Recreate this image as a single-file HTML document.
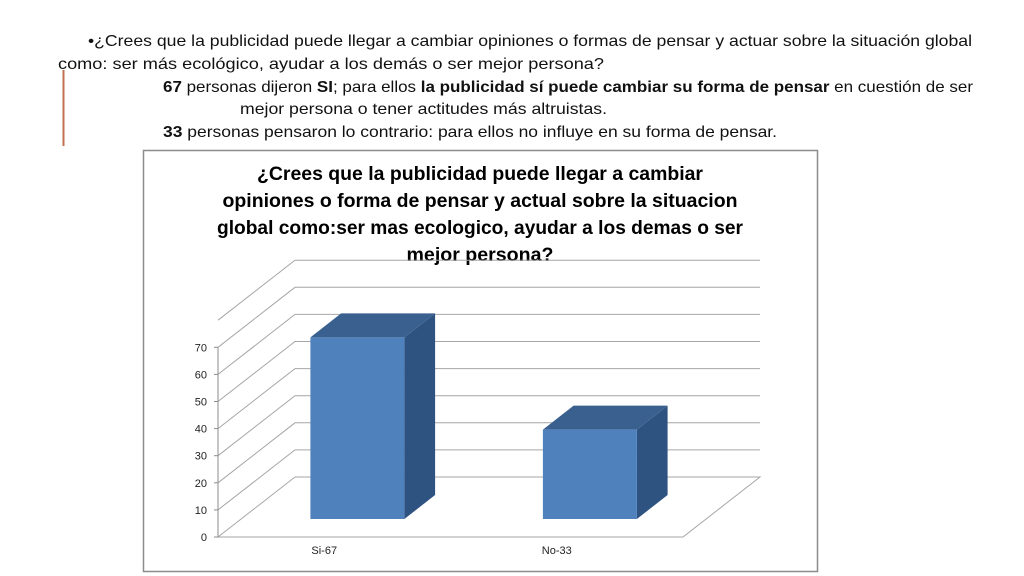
<!DOCTYPE html>
<html><head><meta charset="utf-8"><style>
html,body{margin:0;padding:0;background:#fff;}
svg{display:block;font-family:"Liberation Sans",sans-serif;}
</style></head><body>
<svg id="s" width="1024" height="576" viewBox="0 0 1024 576" xmlns="http://www.w3.org/2000/svg">
<line x1="63.5" y1="70" x2="63.5" y2="146" stroke="#c0704f" stroke-width="2"/>
<g font-size="16" fill="#111">
<text x="88" y="46" textLength="884" lengthAdjust="spacingAndGlyphs">•¿Crees que la publicidad puede llegar a cambiar opiniones o formas de pensar y actuar sobre la situación global</text>
<text x="58" y="69" textLength="546" lengthAdjust="spacingAndGlyphs">como: ser más ecológico, ayudar a los demás o ser mejor persona?</text>
<text x="163" y="92" textLength="810" lengthAdjust="spacingAndGlyphs"><tspan font-weight="bold">67</tspan> personas dijeron <tspan font-weight="bold">SI</tspan>; para ellos <tspan font-weight="bold">la publicidad sí puede cambiar su forma de pensar</tspan> en cuestión de ser</text>
<text x="240" y="114" textLength="367" lengthAdjust="spacingAndGlyphs">mejor persona o tener actitudes más altruistas.</text>
<text x="163" y="137" textLength="614" lengthAdjust="spacingAndGlyphs"><tspan font-weight="bold">33</tspan> personas pensaron lo contrario: para ellos no influye en su forma de pensar.</text>
</g>
<rect x="143.5" y="150.5" width="674" height="421" fill="#fff" stroke="#8c8c8c" stroke-width="1.5"/>
<g font-size="19" font-weight="bold" fill="#000" text-anchor="middle">
<text x="480" y="180" textLength="446" lengthAdjust="spacingAndGlyphs">¿Crees que la publicidad puede llegar a cambiar</text>
<text x="480" y="207" textLength="515" lengthAdjust="spacingAndGlyphs">opiniones o forma de pensar y actual sobre la situacion</text>
<text x="480" y="234" textLength="526" lengthAdjust="spacingAndGlyphs">global como:ser mas ecologico, ayudar a los demas o ser</text>
<text x="480" y="261" textLength="147" lengthAdjust="spacingAndGlyphs">mejor persona?</text>
</g>
<g id="plot"></g>
</svg>
<script>
const categories = ["Si-67", "No-33"];
const values = [67, 33];
const yTicks = [0, 10, 20, 30, 40, 50, 60, 70, 80];
const yTickLabels = ["0","10","20","30","40","50","60","70"];

const NS = "http://www.w3.org/2000/svg";
const plot = document.getElementById("plot");
const X0 = 218, X1 = 683, Y0 = 537, PXU = 2.71, DX = 77, DY = -60;
function yv(v){ return Y0 - v*PXU; }
function proj(x, v, t){ return [x + t*DX, yv(v) + t*DY]; }
function bandCenter(i){ const w=(X1-X0)/categories.length; return X0 + w*(i+0.5); }
function mk(tag, attrs){ const e=document.createElementNS(NS,tag); for(const k in attrs) e.setAttribute(k,attrs[k]); plot.appendChild(e); return e; }
function pts(a){ return a.map(p=>p[0].toFixed(1)+","+p[1].toFixed(1)).join(" "); }

// grid: back wall lines, left wall diagonals
yTicks.forEach(v=>{
  const a=proj(X0,v,0), b=proj(X0,v,1), c=proj(X1,v,1);
  const g=mk("polyline",{points:pts(v===0?[a,b]:[a,b,c]),fill:"none",stroke:"#a6a6a6","stroke-width":1});
  
  
});
// floor
const fl=mk("polyline",{points:pts([proj(X0,0,0),proj(X1,0,0),proj(X1,0,1),proj(X0,0,1)]),fill:"none",stroke:"#a6a6a6","stroke-width":1});


// axis
const ax=mk("line",{x1:X0,y1:yv(0),x2:X0,y2:yv(70),stroke:"#8c8c8c","stroke-width":1});


yTickLabels.forEach((l,i)=>{
  const v=+l;
  const tk=mk("line",{x1:X0-4,y1:yv(v),x2:X0,y2:yv(v),stroke:"#8c8c8c"});
  
  
  const t=mk("text",{x:X0-11,y:yv(v)+4,"text-anchor":"end","font-size":11,fill:"#222"});
  t.textContent=l;
  
  
});
// bars
const BW=94, T0=0.3, T1=0.7;
categories.forEach((c,i)=>{
  const cx=bandCenter(i), xl=cx-BW/2, xr=cx+BW/2, v=values[i];
  const side=mk("polygon",{points:pts([proj(xr,0,T0),proj(xr,v,T0),proj(xr,v,T1),proj(xr,0,T1)]),fill:"#2f5381"});
  
  
  const top=mk("polygon",{points:pts([proj(xl,v,T0),proj(xr,v,T0),proj(xr,v,T1),proj(xl,v,T1)]),fill:"#3a6090"});
  
  
  const f=mk("polygon",{points:pts([proj(xl,0,T0),proj(xr,0,T0),proj(xr,v,T0),proj(xl,v,T0)]),fill:"#4f81bd"});
  
  
  const lb=mk("text",{x:cx-10,y:554,"text-anchor":"middle","font-size":11,fill:"#222"});
  lb.textContent=c;
  
  
});
</script>
</body></html>
